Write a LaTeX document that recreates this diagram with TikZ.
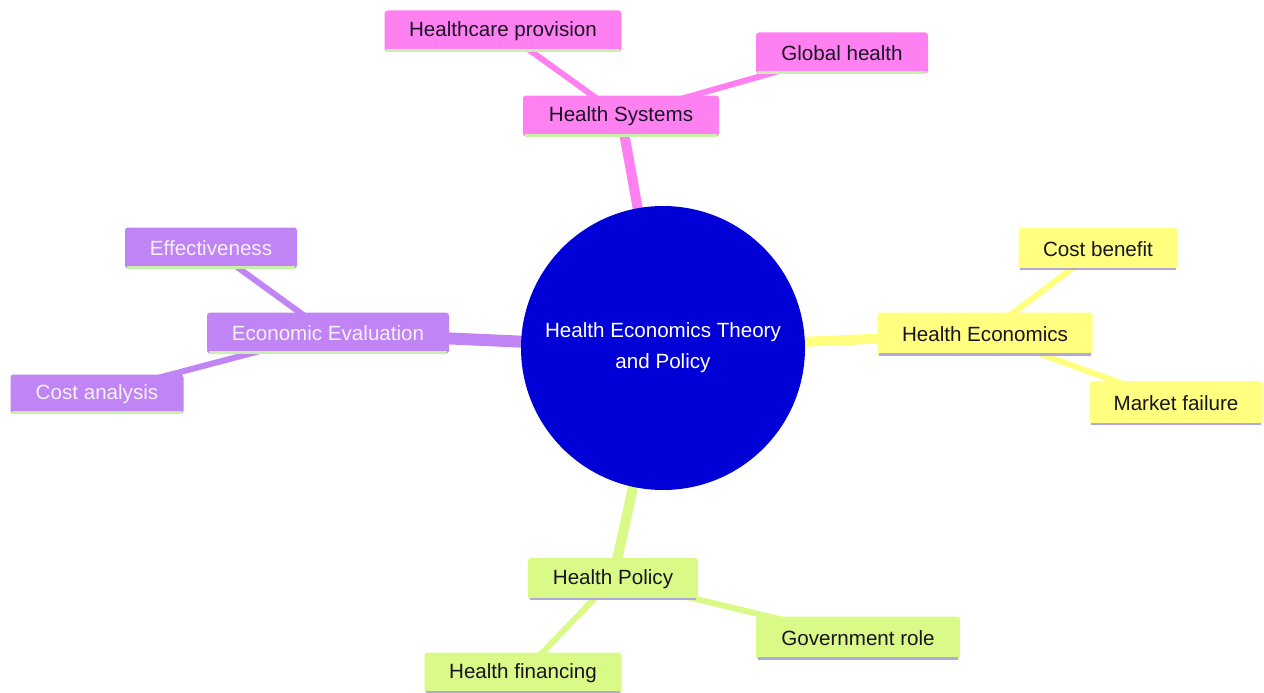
\documentclass[tikz,border=0pt]{standalone}
\usepackage{fontspec}
\setmainfont{Liberation Sans}
\usetikzlibrary{backgrounds}
\definecolor{cpink}{RGB}{255,128,240}
\definecolor{cpurple}{RGB}{192,132,245}
\definecolor{cyellow}{RGB}{255,255,128}
\definecolor{cgreen}{RGB}{218,250,135}
\definecolor{cblue}{RGB}{0,0,215}
\definecolor{ulgreen}{RGB}{200,240,170}
\definecolor{ullav}{RGB}{176,168,224}
\definecolor{darktext}{RGB}{25,20,35}
\definecolor{lighttext}{RGB}{245,240,250}
\tikzset{
  x=1pt, y=-1pt,
  box/.style={rectangle, rounded corners=3pt, minimum height=41pt, inner sep=0pt,
    font=\fontsize{20.6}{24}\selectfont},
  pinkbox/.style={box, fill=cpink, text=darktext},
  purplebox/.style={box, fill=cpurple, text=lighttext},
  yellowbox/.style={box, fill=cyellow, text=darktext},
  greenbox/.style={box, fill=cgreen, text=darktext},
  mainedge/.style={line width=10pt},
  leafedge/.style={line width=6pt},
  uline/.style={line width=2.5pt},
}
\begin{document}
\begin{tikzpicture}
\useasboundingbox (0,0) rectangle (1264,693);
% center
\node[circle, fill=cblue, minimum size=284pt, inner sep=0pt, text=white, align=center,
  font=\fontsize{20.6}{31}\selectfont] (c) at (663,348) {Health Economics Theory\\and Policy};
% main nodes
\node[pinkbox, minimum width=196pt] (hs) at (621,116) {Health Systems};
\node[purplebox, minimum width=242pt] (ee) at (328,333) {Economic Evaluation};
\node[yellowbox, minimum width=215pt, minimum height=43pt] (he) at (985,334) {Health Economics};
\node[greenbox, minimum width=170pt, minimum height=42pt] (hp) at (613,579) {Health Policy};
% leaves
\node[pinkbox, minimum width=237pt] (hcp) at (503,31) {Healthcare provision};
\node[pinkbox, minimum width=172pt] (gh) at (842,53) {Global health};
\node[purplebox, minimum width=172pt] (eff) at (211,248) {Effectiveness};
\node[purplebox, minimum width=173pt, minimum height=39pt] (ca) at (97,394) {Cost analysis};
\node[yellowbox, minimum width=159pt, minimum height=42pt] (cb) at (1098,249) {Cost benefit};
\node[yellowbox, minimum width=173pt, minimum height=44pt] (mf) at (1176,403) {Market failure};
\node[greenbox, minimum width=204pt, minimum height=43pt] (gr) at (858,638) {Government role};
\node[greenbox, minimum width=197pt] (hf) at (523,673) {Health financing};
% underlines
\foreach \n in {hs,ee,hcp,gh,eff,ca}
  \draw[uline, ulgreen] ([xshift=2pt,yshift=1pt]\n.south west) -- ([xshift=-2pt,yshift=1pt]\n.south east);
\foreach \n in {he,hp,cb,mf,gr,hf}
  \draw[uline, ullav] ([xshift=2pt,yshift=1pt]\n.south west) -- ([xshift=-2pt,yshift=1pt]\n.south east);
% edges
\begin{scope}[on background layer]
\fill[white] (0,0) rectangle (1264,693);
\draw[mainedge, cpink] (c.center) -- (hs.center);
\draw[mainedge, cpurple, line width=12pt] (c.center) -- (ee.center);
\draw[mainedge, cyellow] (c.center) -- (he.center);
\draw[mainedge, cgreen] (c.center) -- (hp.center);
\draw[leafedge, cpink] (hs.center) -- (hcp.center);
\draw[leafedge, cpink] (hs.center) -- (gh.center);
\draw[leafedge, cpurple] (ee.center) -- (eff.center);
\draw[leafedge, cpurple] (ee.center) -- (ca.center);
\draw[leafedge, cyellow] (he.center) -- (cb.center);
\draw[leafedge, cyellow] (he.center) -- (mf.center);
\draw[leafedge, cgreen] (hp.center) -- (gr.center);
\draw[leafedge, cgreen] (hp.center) -- (hf.center);
\end{scope}
\end{tikzpicture}
\end{document}
